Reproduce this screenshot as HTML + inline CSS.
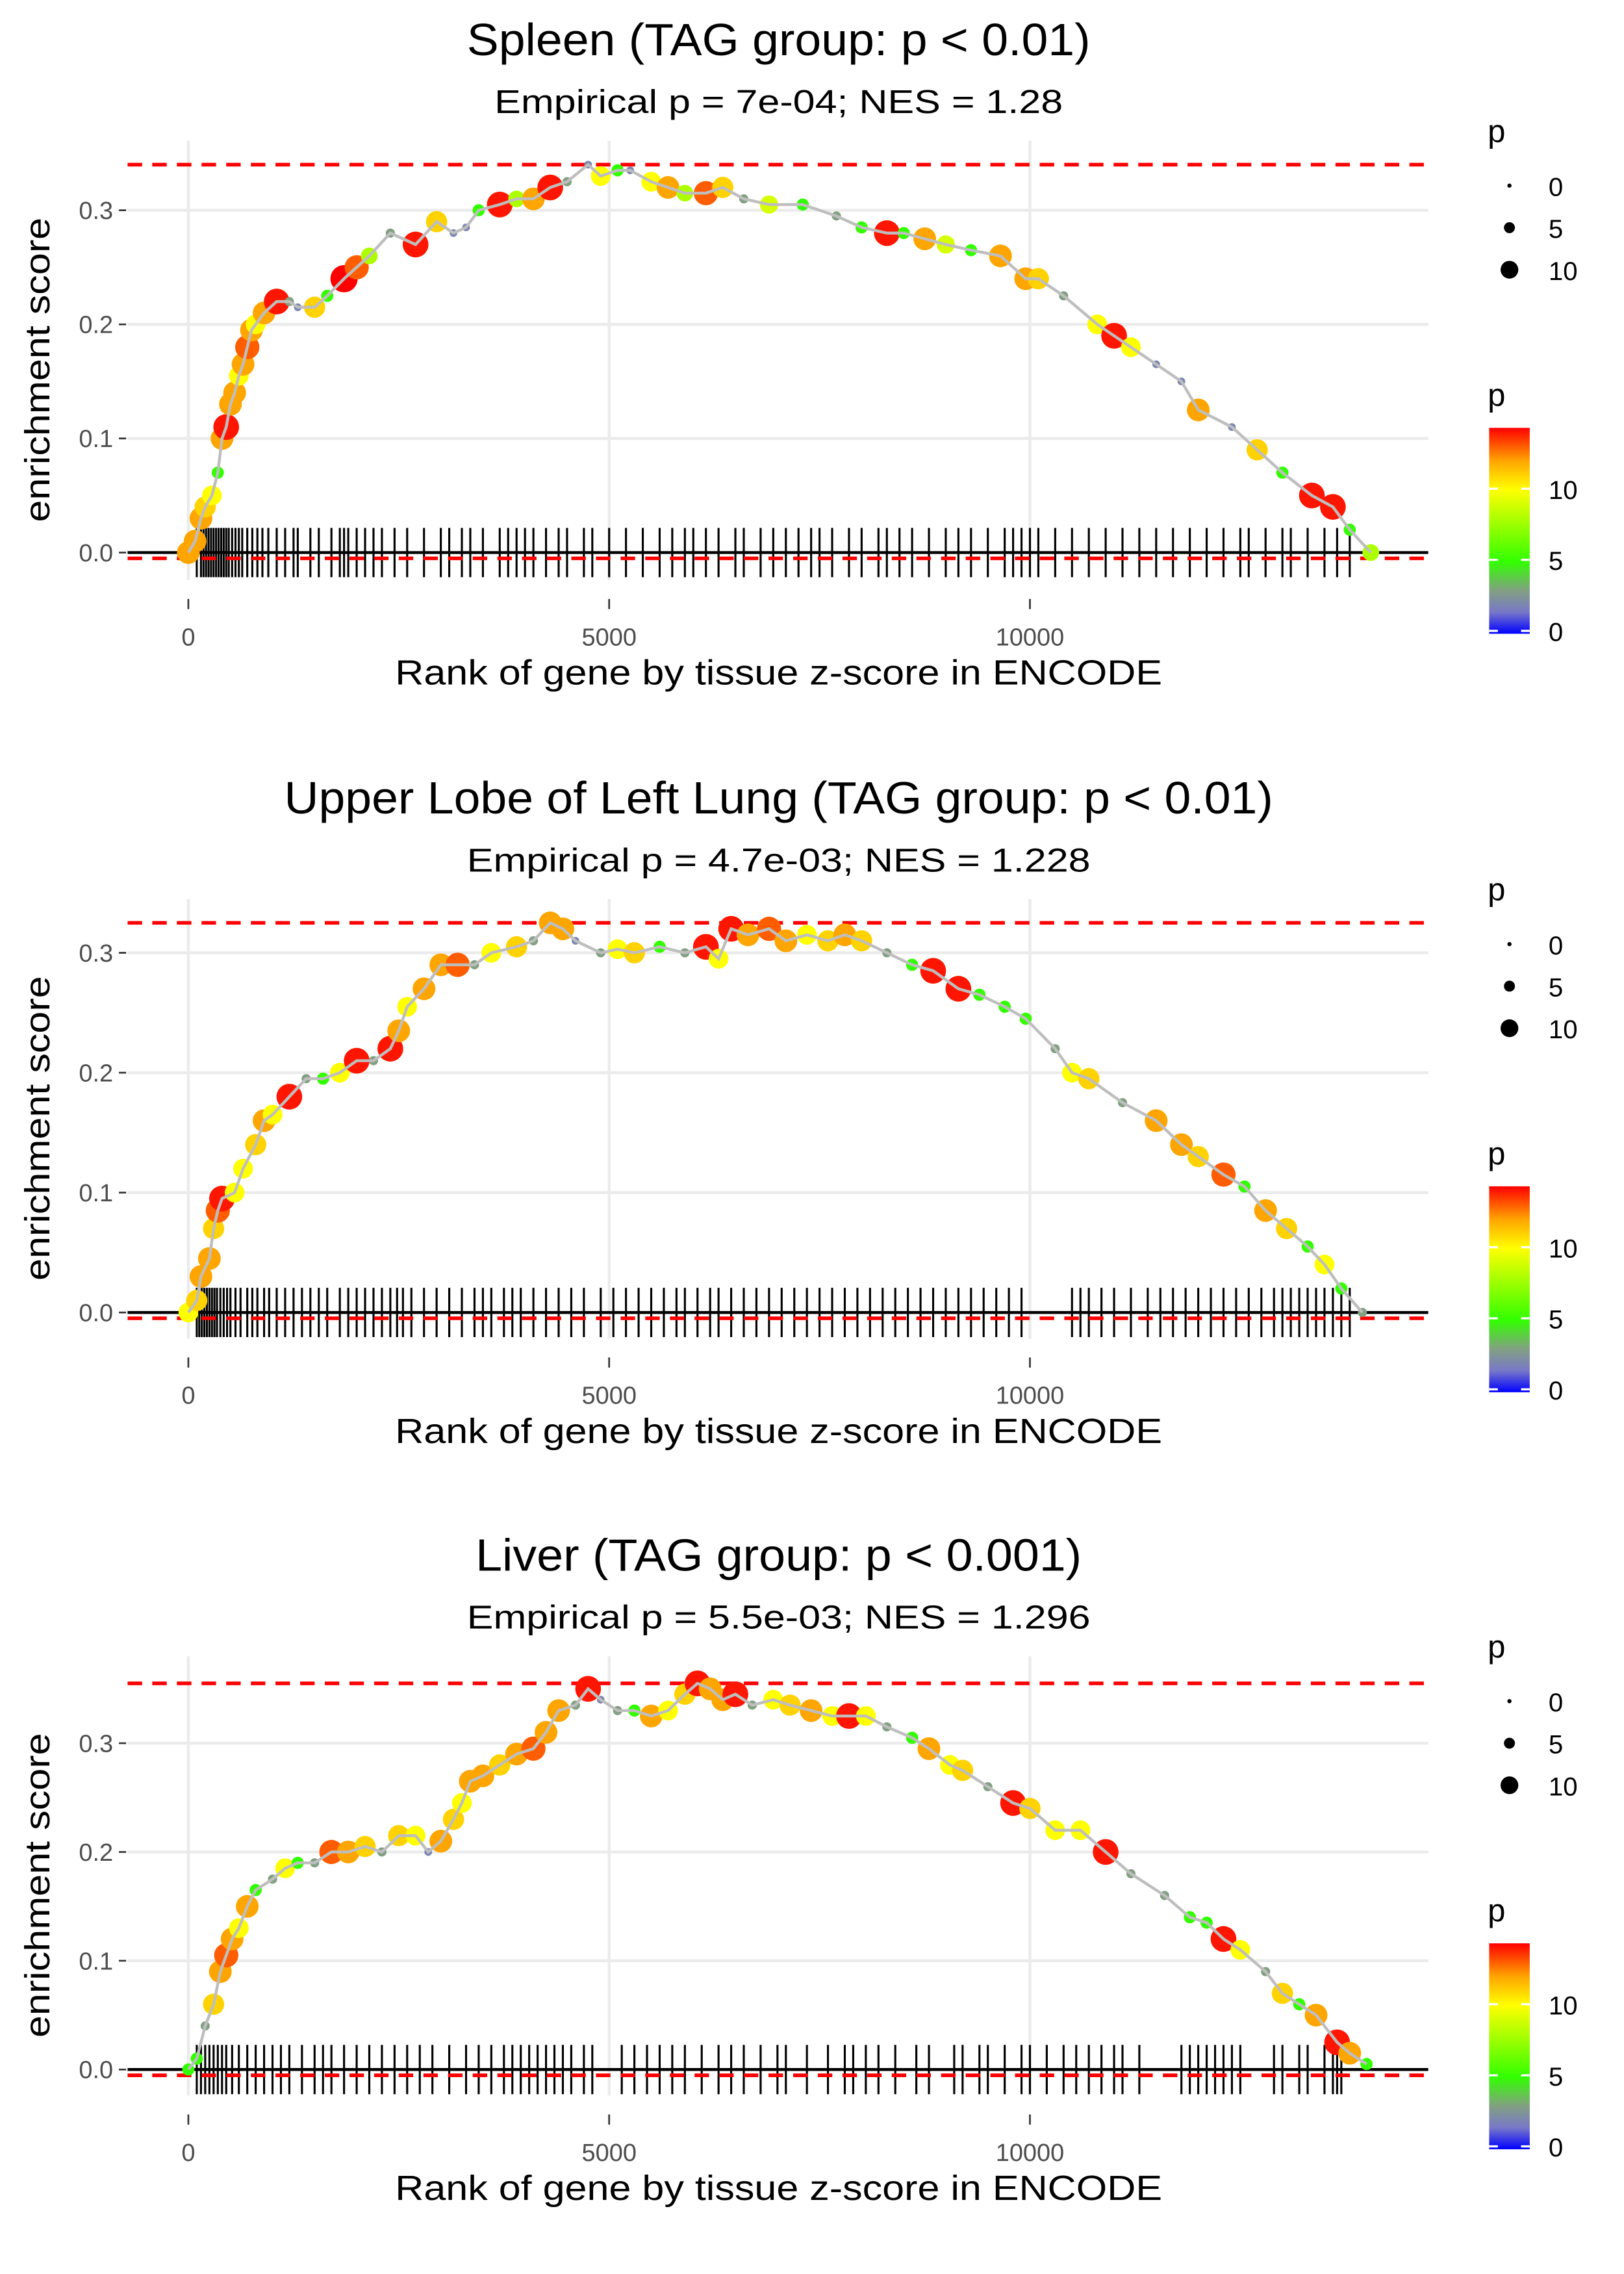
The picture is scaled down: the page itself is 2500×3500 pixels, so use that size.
<!DOCTYPE html>
<html><head><meta charset="utf-8"><style>html,body{margin:0;padding:0;background:#fff}svg{display:block}text{font-family:"Liberation Sans",sans-serif}</style></head>
<body>
<svg id="chart" width="2500" height="3500" viewBox="0 0 1120 1568" xmlns="http://www.w3.org/2000/svg"></svg>
<script>
const spleenRank=[0,80,150,200,280,350,400,450,500,550,600,650,700,750,800,900,1050,1200,1300,1500,1650,1850,2000,2150,2400,2700,2950,3150,3300,3450,3700,3900,4100,4300,4500,4750,4900,5100,5250,5500,5700,5900,6150,6350,6600,6900,7300,7700,8000,8300,8500,8750,9000,9300,9650,9950,10100,10400,10800,11000,11200,11500,11800,12000,12400,12700,13000,13350,13600,13800,14050];
const spleenES=[0,0.01,0.03,0.04,0.05,0.07,0.10,0.11,0.13,0.14,0.155,0.165,0.18,0.195,0.2,0.21,0.22,0.22,0.215,0.215,0.225,0.24,0.25,0.26,0.28,0.27,0.29,0.28,0.285,0.30,0.305,0.31,0.31,0.32,0.325,0.34,0.33,0.335,0.335,0.325,0.32,0.315,0.315,0.32,0.31,0.305,0.305,0.295,0.285,0.28,0.28,0.275,0.27,0.265,0.26,0.24,0.24,0.225,0.2,0.19,0.18,0.165,0.15,0.125,0.11,0.09,0.07,0.05,0.04,0.02,0.0];
const spleenP=[12,12,12,11,10,5,12,14,12,12,10,12,13,12,10,12,14,3,2,11,5,15,13,8,3,14,11,2,2,5,14,8,12,14,3,2,10,5,2,10,12,8,13,11,3,9,5,3,5,14,5,12,9,5,12,12,11,3,10,14,10,2,2,12,2,11,5,14,14,5,8];
const spleenRug=[100,150,180,210,240,270,300,330,360,390,420,450,480,520,560,600,640,700,760,820,880,950,1050,1150,1250,1300,1450,1550,1700,1800,1850,1900,2000,2100,2200,2300,2450,2600,2800,3000,3100,3250,3350,3500,3700,3800,3900,4000,4100,4250,4400,4500,4700,4800,5000,5200,5400,5600,5750,5900,6000,6150,6300,6500,6600,6800,6950,7100,7250,7400,7500,7650,7850,8000,8200,8300,8450,8600,8800,9000,9150,9300,9500,9700,9800,9900,10000,10100,10300,10500,10700,10900,11100,11300,11500,11700,11900,12100,12300,12500,12600,12800,13000,13100,13300,13500,13650,13800];

const lungRank=[0,100,150,250,300,350,400,550,650,800,900,1000,1200,1400,1600,1800,2000,2200,2400,2500,2600,2800,3000,3200,3400,3600,3900,4100,4300,4450,4600,4900,5100,5300,5600,5900,6150,6300,6450,6650,6900,7100,7350,7600,7800,8000,8300,8600,8850,9150,9400,9700,9950,10300,10500,10700,11100,11500,11800,12000,12300,12550,12800,13050,13300,13500,13700,13950];
const lungES=[0,0.01,0.03,0.045,0.07,0.085,0.095,0.1,0.12,0.14,0.16,0.165,0.18,0.195,0.195,0.2,0.21,0.21,0.22,0.235,0.255,0.27,0.29,0.29,0.29,0.3,0.305,0.31,0.325,0.32,0.31,0.3,0.303,0.3,0.305,0.3,0.305,0.295,0.32,0.315,0.32,0.31,0.315,0.31,0.315,0.31,0.3,0.29,0.285,0.27,0.265,0.255,0.245,0.22,0.2,0.195,0.175,0.16,0.14,0.13,0.115,0.105,0.085,0.07,0.055,0.04,0.02,0.0];
const lungP=[10,11,12,12,11,13,14,10,10,11,12,10,14,3,5,10,14,3,14,12,10,12,12,13,3,10,11,3,12,12,2,3,10,11,5,3,14,10,14,12,13,12,10,11,12,11,3,5,14,14,5,5,5,3,10,11,3,12,12,11,13,5,12,11,5,10,5,3];
const lungRug=[100,130,160,190,220,250,280,310,340,380,420,460,500,560,620,700,760,820,900,960,1050,1150,1250,1350,1450,1550,1650,1800,1900,2000,2100,2200,2300,2400,2480,2550,2650,2800,2950,3100,3250,3400,3500,3600,3750,3850,3950,4100,4250,4400,4550,4700,4900,5050,5200,5350,5500,5650,5800,5900,6050,6200,6300,6450,6600,6750,6900,7050,7200,7350,7500,7650,7800,7950,8100,8250,8400,8550,8700,8850,9000,9150,9300,9450,9600,9750,9900,10500,10600,10700,10850,11000,11200,11400,11550,11700,11850,12000,12150,12300,12450,12600,12750,12900,13000,13100,13200,13300,13400,13500,13600,13700,13800];

const liverRank=[0,100,200,300,380,450,520,600,700,800,1000,1150,1300,1500,1700,1900,2100,2300,2500,2700,2850,3000,3150,3250,3350,3500,3700,3900,4100,4250,4400,4600,4750,4900,5100,5300,5500,5700,5900,6050,6200,6350,6500,6700,6950,7150,7400,7650,7850,8050,8300,8600,8800,9050,9200,9500,9800,10000,10300,10600,10900,11200,11600,11900,12100,12300,12500,12800,13000,13200,13400,13650,13800,14000];
const liverES=[0,0.01,0.04,0.06,0.09,0.105,0.12,0.13,0.15,0.165,0.175,0.185,0.19,0.19,0.2,0.2,0.205,0.2,0.215,0.215,0.2,0.21,0.23,0.245,0.265,0.27,0.28,0.29,0.295,0.31,0.33,0.335,0.35,0.34,0.33,0.33,0.325,0.33,0.345,0.355,0.35,0.34,0.345,0.335,0.34,0.335,0.33,0.325,0.325,0.325,0.315,0.305,0.295,0.28,0.275,0.26,0.245,0.24,0.22,0.22,0.2,0.18,0.16,0.14,0.135,0.12,0.11,0.09,0.07,0.06,0.05,0.025,0.015,0.005];
const liverP=[5,5,3,11,12,13,12,10,12,5,3,10,5,3,13,12,11,3,11,10,2,12,11,10,12,12,11,12,13,12,12,3,14,2,3,5,12,10,11,14,12,12,14,3,10,11,12,10,14,10,3,5,12,10,11,3,14,11,10,10,14,3,3,5,5,14,10,3,11,5,12,14,12,5];
const liverRug=[100,150,200,250,300,350,400,450,520,600,700,800,900,1000,1100,1200,1350,1500,1600,1700,1850,2000,2150,2300,2450,2600,2750,2900,3100,3300,3450,3600,3750,3850,3950,4050,4150,4250,4350,4450,4550,4700,4800,5150,5300,5450,5600,5750,5900,6100,6300,6450,6600,6800,7000,7100,7350,7600,7800,7900,8050,8200,8400,8650,8800,9100,9200,9400,9500,9700,9900,10000,10200,10400,10550,10700,10850,11000,11100,11300,11800,11900,12000,12100,12200,12300,12400,12500,12900,13000,13200,13300,13500,13600,13650,13700];

const xTicks=[0,5000,10000];
const yTicks=[0,0.1,0.2,0.3];
const sizeLegendValues=[0,5,10];
const colorLegendValues=[0,5,10];

const NS='http://www.w3.org/2000/svg';
const svg=document.getElementById('chart');
function mk(tag,attrs,parent){const e=document.createElementNS(NS,tag);for(const k in attrs)e.setAttribute(k,attrs[k]);(parent||svg).appendChild(e);return e;}
const stops=[[0,[0,0,255]],[1.5,[120,120,200]],[3,[130,160,130]],[5,[50,255,0]],[10,[255,255,0]],[12,[255,165,0]],[14.3,[255,0,0]]];
function pColor(p){if(p<=0)return 'rgb(0,0,255)';for(let i=1;i<stops.length;i++){if(p<=stops[i][0]){const a=stops[i-1],b=stops[i];const t=(p-a[0])/(b[0]-a[0]);const c=a[1].map((v,j)=>Math.round(v+(b[1][j]-v)*t));return 'rgb('+c.join(',')+')';}}return 'rgb(255,0,0)';}
function pRadius(p){return 1.6+p*0.52;}
const xScale=r=>129.9+r*0.05804;

const panels=[
 {key:'spleen',title:'Spleen (TAG group: p < 0.01)',sub:'Empirical p = 7e-04; NES = 1.28',off:0,y0:381,k:786.7,rank:spleenRank,es:spleenES,p:spleenP,rug:spleenRug},
 {key:'lung',title:'Upper Lobe of Left Lung (TAG group: p < 0.01)',sub:'Empirical p = 4.7e-03; NES = 1.228',off:523,y0:905,k:826.7,rank:lungRank,es:lungES,p:lungP,rug:lungRug},
 {key:'liver',title:'Liver (TAG group: p < 0.001)',sub:'Empirical p = 5.5e-03; NES = 1.296',off:1045,y0:1427,k:750,rank:liverRank,es:liverES,p:liverP,rug:liverRug}
];
const titleW={spleen:430,lung:682,liver:418};
const subW={spleen:392,lung:430,liver:430};

panels.forEach(P=>{
 const g=mk('g',{});
 
 
 const yS=v=>P.y0-v*P.k;
 const top=P.off+97,bot=P.off+400;
 const t=mk('text',{x:537,y:P.off+38,'text-anchor':'middle','font-size':31,fill:'#000',textLength:titleW[P.key],lengthAdjust:'spacingAndGlyphs'},g);t.textContent=P.title;
 
 const s=mk('text',{x:537,y:P.off+78,'text-anchor':'middle','font-size':23,fill:'#000',textLength:subW[P.key],lengthAdjust:'spacingAndGlyphs'},g);s.textContent=P.sub;
 
 xTicks.forEach(v=>{const l=mk('line',{x1:xScale(v),x2:xScale(v),y1:top,y2:bot,stroke:'#ebebeb','stroke-width':2},g);
  
  const tk=mk('line',{x1:xScale(v),x2:xScale(v),y1:bot+13,y2:bot+20,stroke:'#333','stroke-width':1.2},g);
  
  const tl=mk('text',{x:xScale(v),y:P.off+445,'text-anchor':'middle','font-size':17,fill:'#4d4d4d'},g);tl.textContent=String(v);
  });
 yTicks.forEach(v=>{if(v>0){const l=mk('line',{x1:88,x2:985,y1:yS(v),y2:yS(v),stroke:'#ebebeb','stroke-width':2},g);
  }
  const tk=mk('line',{x1:82,x2:87,y1:yS(v),y2:yS(v),stroke:'#333','stroke-width':1.2},g);
  
  const tl=mk('text',{x:78,y:yS(v)+6,'text-anchor':'end','font-size':17,fill:'#4d4d4d'},g);tl.textContent=v.toFixed(1);
  });
 P.rug.forEach(r=>{const l=mk('line',{x1:xScale(r),x2:xScale(r),y1:P.y0-17,y2:P.y0+17,stroke:'#000','stroke-width':1.4},g);
  });
 const z=mk('line',{x1:88,x2:985,y1:P.y0,y2:P.y0,stroke:'#000','stroke-width':2},g);
 
 const maxES=Math.max(...P.es);
 const d1=mk('line',{x1:88,x2:985,y1:yS(maxES),y2:yS(maxES),stroke:'#ff0000','stroke-width':2.5,'stroke-dasharray':'10 7'},g);
 
 const d2=mk('line',{x1:88,x2:985,y1:P.y0+4,y2:P.y0+4,stroke:'#ff0000','stroke-width':2.5,'stroke-dasharray':'10 7'},g);
 
 P.rank.forEach((r,i)=>{const c=mk('circle',{cx:xScale(r),cy:yS(P.es[i]),r:pRadius(P.p[i]),fill:pColor(P.p[i])},g);
  });
 const pth=mk('polyline',{points:P.rank.map((r,i)=>xScale(r)+','+yS(P.es[i])).join(' '),fill:'none',stroke:'#bebebe','stroke-width':2},g);
 
 const xt=mk('text',{x:537,y:P.off+472,'text-anchor':'middle','font-size':24,fill:'#000',textLength:529,lengthAdjust:'spacingAndGlyphs'},g);xt.textContent='Rank of gene by tissue z-score in ENCODE';
 
 const yt=mk('text',{x:0,y:0,'text-anchor':'middle','font-size':24,fill:'#000',transform:'translate(34,'+(P.off+255)+') rotate(-90)',textLength:210,lengthAdjust:'spacingAndGlyphs'},g);yt.textContent='enrichment score';
 
 const sl=mk('text',{x:1026,y:P.off+98,'font-size':22,fill:'#000'},g);sl.textContent='p';
 
 sizeLegendValues.forEach((v,i)=>{const cy=P.off+128+i*29;
  const c=mk('circle',{cx:1041,cy:cy,r:pRadius(v)*0.9,fill:'#000'},g);
  
  const tl=mk('text',{x:1068,y:cy+7,'font-size':18,fill:'#000'},g);tl.textContent=String(v);
  });
 const cl=mk('text',{x:1026,y:P.off+280,'font-size':22,fill:'#000'},g);cl.textContent='p';
 
 const gid='grad'+P.key;const defs=mk('defs',{},g);const lg=mk('linearGradient',{id:gid,x1:0,y1:1,x2:0,y2:0},defs);
 stops.forEach(st=>mk('stop',{offset:(st[0]/14.3),'stop-color':'rgb('+st[1].join(',')+')'},lg));
 const cbTop=P.off+295,cbBot=P.off+437;
 const bar=mk('rect',{x:1027,y:cbTop,width:28,height:cbBot-cbTop,fill:'url(#'+gid+')'},g);
 
 colorLegendValues.forEach(v=>{const y=cbBot-2-v*9.8;
  const a=mk('line',{x1:1027,x2:1033,y1:y,y2:y,stroke:'#fff','stroke-width':1.5},g);
  const b=mk('line',{x1:1049,x2:1055,y1:y,y2:y,stroke:'#fff','stroke-width':1.5},g);
  const tl=mk('text',{x:1068,y:y+7,'font-size':18,fill:'#000'},g);tl.textContent=String(v);
  });
});
</script>
</body></html>
